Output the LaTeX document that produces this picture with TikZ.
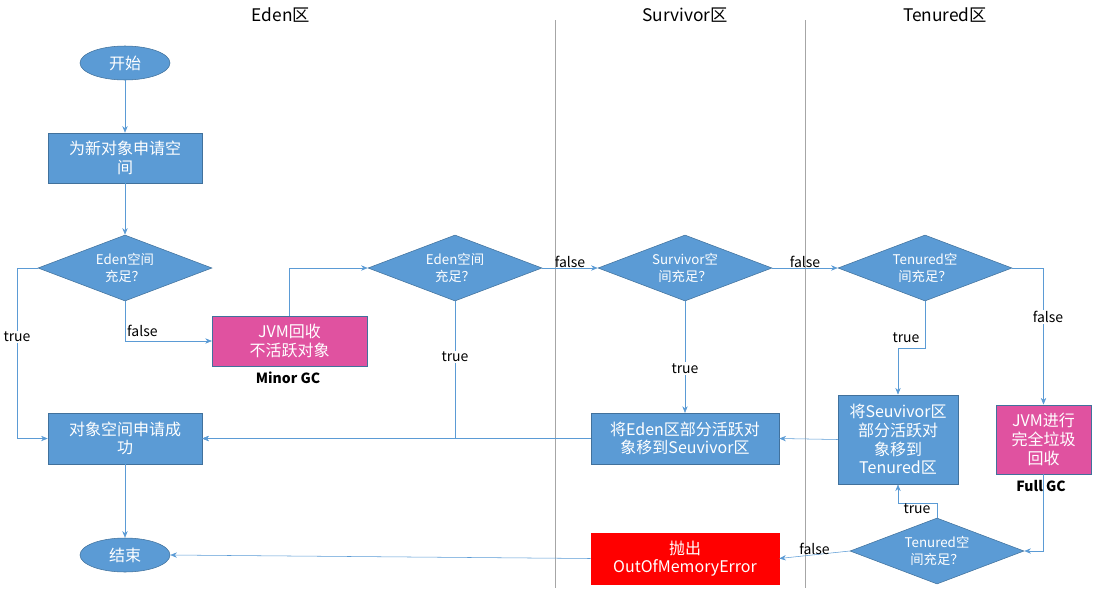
\documentclass[tikz,border=0pt]{standalone}
\usepackage{fontspec}
\setmainfont{Noto Sans CJK SC}
\usetikzlibrary{shapes.geometric,arrows.meta}
\definecolor{bfill}{HTML}{5B9BD5}
\definecolor{bdraw}{HTML}{41719C}
\definecolor{mag}{HTML}{E052A0}
\begin{document}
\begin{tikzpicture}[x=0.75pt,y=-0.75pt,
 box/.style={draw=bdraw,fill=bfill,text=white,font=\fontsize{12}{14}\selectfont,align=center,inner sep=0pt},
 dia/.style={diamond,draw=bdraw,fill=bfill,text=white,font=\fontsize{10}{13}\selectfont,align=center,inner sep=0pt,minimum width=130.5pt,minimum height=49.5pt,aspect=2.64},
 ell/.style={ellipse,draw=bdraw,fill=bfill,text=white,font=\fontsize{12}{14}\selectfont,minimum width=67.5pt,minimum height=25.5pt,inner sep=0pt},
 arr/.style={draw=bfill,-{Stealth[length=5pt,width=4pt]}},
 lab/.style={font=\fontsize{10.5}{12}\selectfont,fill=white,inner sep=1pt},
 hd/.style={font=\fontsize{13}{15}\selectfont}]
\useasboundingbox (0,0) rectangle (1098,600);
\node[hd] (h1) at (281,15) {Eden区};
\node[hd] (h2) at (685,15) {Survivor区};
\node[hd] (h3) at (945,15) {Tenured区};
\coordinate (v1a) at (555,20); \coordinate (v1b) at (555,588);
\coordinate (v2a) at (805,20); \coordinate (v2b) at (805,588);
\draw[gray!70] (v1a)--(v1b); \draw[gray!70] (v2a)--(v2b);
\node[ell] (start) at (125,63) {开始};
\node[box,minimum width=115.5pt,minimum height=37.5pt] (req) at (125,158) {为新对象申请空\\间};
\node[dia] (d1) at (125,268) {Eden空间\\充足？};
\node[box,fill=mag,minimum width=116pt,minimum height=37.5pt] (jvm) at (289.5,341) {JVM回收\\不活跃对象};
\node[font=\bfseries\fontsize{10.5}{12}\selectfont] (mgc) at (288,378) {Minor GC};
\node[dia] (d2) at (455,268) {Eden空间\\充足？};
\node[dia] (d3) at (685,268) {Survivor空\\间充足？};
\node[dia] (d4) at (925,268) {Tenured空\\间充足？};
\node[box,minimum width=115.5pt,minimum height=38pt] (ok) at (125,438.5) {对象空间申请成\\功};
\node[box,minimum width=141pt,minimum height=38pt] (mv1) at (685,438.5) {将Eden区部分活跃对\\象移到Seuvivor区};
\node[box,minimum width=90pt,minimum height=67pt] (mv2) at (898,439.5) {将Seuvivor区\\部分活跃对\\象移到\\Tenured区};
\node[box,fill=mag,minimum width=71pt,minimum height=52pt] (full) at (1043.5,439.5) {JVM进行\\完全垃圾\\回收};
\node[font=\bfseries\fontsize{10.5}{12}\selectfont] (fgc) at (1041,486) {Full GC};
\node[dia] (d5) at (937,551) {Tenured空\\间充足？};
\node[box,fill=red,draw=red,minimum width=141pt,minimum height=38pt] (oom) at (685,558.5) {抛出\\OutOfMemoryError};
\node[ell] (end) at (125,555) {结束};
\coordinate (c1) at (17,268);
\coordinate (c2) at (898,348);
\coordinate (c3) at (898,503);
\draw[arr] (start)--(req);
\draw[arr] (req)--(d1);
\draw[arr] (d1.south) |- node[lab,pos=0.6,above=2pt,fill=none]{false} (jvm.west);
\draw[arr] (d1.west) -- (c1) |- (ok.west);
\node[lab] at (17,337) {true};
\draw[arr] (jvm.north) |- (d2.west);
\draw[arr] (d2.south) |- (ok.east);
\node[lab] at (455,357) {true};
\draw[arr] (d2.east) -- node[lab,above=-1pt,fill=none]{false} (d3.west);
\draw[arr] (d3.south) -- node[lab,pos=0.6]{true} (mv1.north);
\draw[arr] (d3.east) -- node[lab,above=-1pt,fill=none]{false} (d4.west);
\draw[arr] (d4.south) |- (c2) -- (mv2.north);
\node[lab] at (906,338) {true};
\draw[arr] (d4.east) -| (full.north);
\node[lab] at (1048,317) {false};
\draw[arr] (mv1.west) -- (ok.east);
\draw[arr] (mv2.west) -- (mv1.east);
\draw[arr] (full.south) |- (d5.east);
\draw[arr] (d5.north) |- (c3) -- (mv2.south);
\node[lab,fill=none] at (917,509) {true};
\draw[arr] (d5.west) -- node[lab,above=-1pt,fill=none]{false} (oom.east);
\draw[arr] (oom.west) -- (end.east);
\draw[arr] (ok.south) -- (end.north);
\end{tikzpicture}
\end{document}
